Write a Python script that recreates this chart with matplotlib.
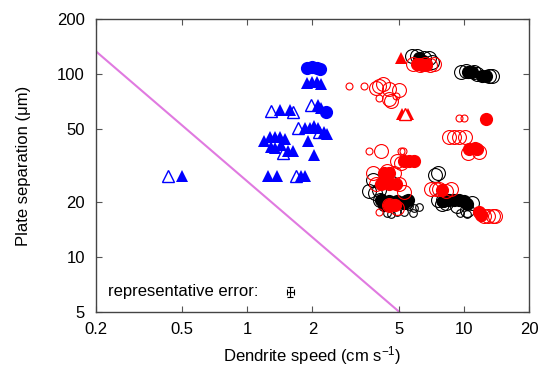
import matplotlib
matplotlib.use('Agg')
import matplotlib.pyplot as plt

plt.rcParams['font.family'] = ['Liberation Sans', 'DejaVu Sans']
plt.rcParams['mathtext.default'] = 'regular'

# guide line
line_x = [0.2, 5.3]
line_y = [133, 4.75]

# blue triangles / circles
blue_tri_x = [1.88, 1.98, 2.09, 2.20, 1.41, 1.57, 2.11, 2.20,
              1.84, 1.94, 2.04, 2.11, 2.26, 2.34,
              1.20, 1.27, 1.34, 1.41, 1.49, 1.29, 1.34, 1.43, 1.54, 1.63, 1.90, 2.04,
              1.24, 1.37, 1.77, 1.84, 0.497]
blue_tri_y = [89, 90, 90, 88, 64, 64, 68, 65,
              51, 51, 52, 51, 48, 47,
              43, 45, 45, 45, 44, 40, 39.5, 41, 38, 38, 43, 36,
              27.6, 27.6, 27.6, 27.6, 27.6]
blue_open_tri_x = [1.29, 1.62, 1.97, 1.71, 2.15, 1.46, 1.68, 0.43]
blue_open_tri_y = [63, 62, 68, 51, 48, 37, 27.6, 27.6]
blue_circ_x = [1.88, 1.98, 2.09, 2.16, 2.31]
blue_circ_y = [108, 109, 108, 107, 62]

# red triangles
red_tri_x = [5.13, 5.2, 5.5]
red_tri_y = [123, 60.5, 60.5]
red_open_tri_x = [5.35]
red_open_tri_y = [60.5]

# red circles
red_small_x = [2.96, 3.47, 4.86, 4.07, 9.5, 10.0, 3.66, 5.13, 5.22, 4.07, 4.3]
red_small_y = [86, 86, 76, 74, 57.8, 57.8, 38, 38, 38, 17.7, 28]
red_open_x = [3.93, 4.07, 4.22, 4.53, 5.03, 4.53, 4.6,
              8.56, 9.0, 9.47, 10.1, 10.4, 11.8,
              4.14, 4.9, 5.1,
              3.8, 4.4, 4.75, 3.95, 5.0, 5.3,
              7.05, 7.43, 7.7, 8.26, 8.72,
              12.4, 13.0, 13.7, 14.0,
              5.8, 6.3, 6.6, 7.0, 7.3,
              4.5, 4.9]
red_open_y = [84, 86, 88, 83, 82, 73, 71,
              45, 45, 45, 45, 37, 37.5,
              38, 33.4, 32.7,
              28.8, 29.4, 28.8, 24.9, 24.9, 22.6,
              23.4, 23.4, 23.4, 22.9, 23.4,
              16.7, 16.7, 16.7, 16.7,
              113, 112, 113, 112, 113,
              19.3, 18.5]
red_fill_x = [6.1, 6.4, 6.7, 12.6, 10.6, 11.3, 11.5,
              5.31, 5.6, 5.9, 4.3, 4.53, 4.14, 4.53, 4.86,
              7.97, 4.5, 4.8, 11.8, 12.0]
red_fill_y = [113, 112, 112, 57, 38.7, 39.4, 38.7,
              33.4, 33.4, 33.4, 28.8, 28.8, 24.9, 24.9, 24.9,
              23.2, 19.3, 19.3, 17.7, 17.0]

# black circles
black_open_x = [5.78, 6.1, 6.57, 6.92, 7.15,
                9.72, 10.25, 11.16, 11.5, 13.1, 13.5,
                7.35, 7.6, 8.0, 8.3, 9.3, 10.3, 10.9, 7.6, 7.9,
                3.79, 4.37, 3.66, 3.9, 4.07, 4.1, 5.4]
black_open_y = [125, 125, 122, 122, 116,
                102, 104, 102, 100, 97, 98,
                28.2, 28.8, 20.4, 19.7, 19.0, 18.1, 19.8, 20.4, 19.5,
                26.5, 25.9, 22.9, 22.4, 23.3, 20.5, 20.0]
black_small_x = [4.5, 4.7, 5.6, 5.9, 6.2, 5.3, 4.4, 4.6, 4.9, 5.8, 9.6, 10.3]
black_small_y = [26.5, 26.5, 19.0, 18.5, 18.8, 17.6, 17.4, 17.2, 17.6, 17.3, 17.3, 17.2]
black_fill_x = [6.2, 6.5, 6.6, 10.4, 10.9, 12.1, 12.6,
                8.0, 8.5, 9.0, 9.5, 10.0, 10.3,
                4.14, 4.5, 4.9, 5.3, 5.5, 4.3]
black_fill_y = [122, 118, 113, 102, 102, 98, 97,
                20.1, 20.4, 20.4, 20.4, 20.1, 19.5,
                20.5, 20.2, 20.2, 19.6, 20.5, 19.3]

# representative error bar
err_x, err_y = 1.58, 6.44
err_dx = [[0.06], [0.06]]
err_dy = [[0.4], [0.45]]

xticks = [0.2, 0.5, 1, 2, 5, 10, 20]
xtick_labels = ['0.2', '0.5', '1', '2', '5', '10', '20']
yticks = [5, 10, 20, 50, 100, 200]
ytick_labels = ['5', '10', '20', '50', '100', '200']

fig = plt.figure(figsize=(5.43, 3.71), dpi=100)
ax = fig.add_axes([0.1768, 0.159, 0.7974, 0.7898])
ax.set_xscale('log')
ax.set_yscale('log')

ax.plot(line_x, line_y, color='#e07ae0', lw=1.5, zorder=1)

ax.plot(blue_tri_x, blue_tri_y, '^', color='blue', ms=9, mew=0, zorder=3)
ax.plot(blue_open_tri_x, blue_open_tri_y, '^', mfc='white', mec='blue', ms=8.5, mew=1, zorder=2)
ax.plot(blue_circ_x, blue_circ_y, 'o', color='blue', ms=9.5, mew=0, zorder=3)

ax.plot(black_open_x, black_open_y, 'o', mfc='none', mec='black', ms=10, mew=0.8, zorder=2)
ax.plot(black_small_x, black_small_y, 'o', mfc='none', mec='black', ms=5.5, mew=0.8, zorder=2)
ax.plot(black_fill_x, black_fill_y, 'o', color='black', ms=9.5, mew=0, zorder=2)

ax.plot(red_open_x, red_open_y, 'o', mfc='none', mec='red', ms=10, mew=0.8, zorder=3)
ax.plot(red_small_x, red_small_y, 'o', mfc='none', mec='red', ms=5, mew=0.8, zorder=3)
ax.plot(red_fill_x, red_fill_y, 'o', color='red', ms=9.5, mew=0, zorder=3)
ax.plot(red_tri_x, red_tri_y, '^', color='red', ms=9, mew=0, zorder=3)
ax.plot(red_open_tri_x, red_open_tri_y, '^', mfc='white', mec='red', ms=8.5, mew=1, zorder=3)

ax.errorbar([err_x], [err_y], xerr=err_dx, yerr=err_dy, fmt='none',
            ecolor='black', elinewidth=0.8, capsize=2, capthick=0.8)
ax.text(0.227, err_y, 'representative error:', fontsize=12, va='center', ha='left')

ax.set_xlim(0.2, 20)
ax.set_ylim(5, 200)
ax.set_xticks(xticks)
ax.set_xticklabels(xtick_labels)
ax.set_yticks(yticks)
ax.set_yticklabels(ytick_labels)
ax.minorticks_off()
ax.tick_params(which='both', direction='in', top=True, right=True, length=4,
               width=0.8, color='#555555', labelsize=12)
ax.tick_params(axis='x', pad=7)
ax.tick_params(axis='y', pad=8)
for sp in ax.spines.values():
    sp.set_color('#444444')
    sp.set_linewidth(1)

ax.set_xlabel('Dendrite speed (cm s$^{-1}$)', fontsize=12, labelpad=5)
ax.set_ylabel('Plate separation (\u03bcm)', fontsize=12, labelpad=19)

fig.savefig('out.png', dpi=100)
